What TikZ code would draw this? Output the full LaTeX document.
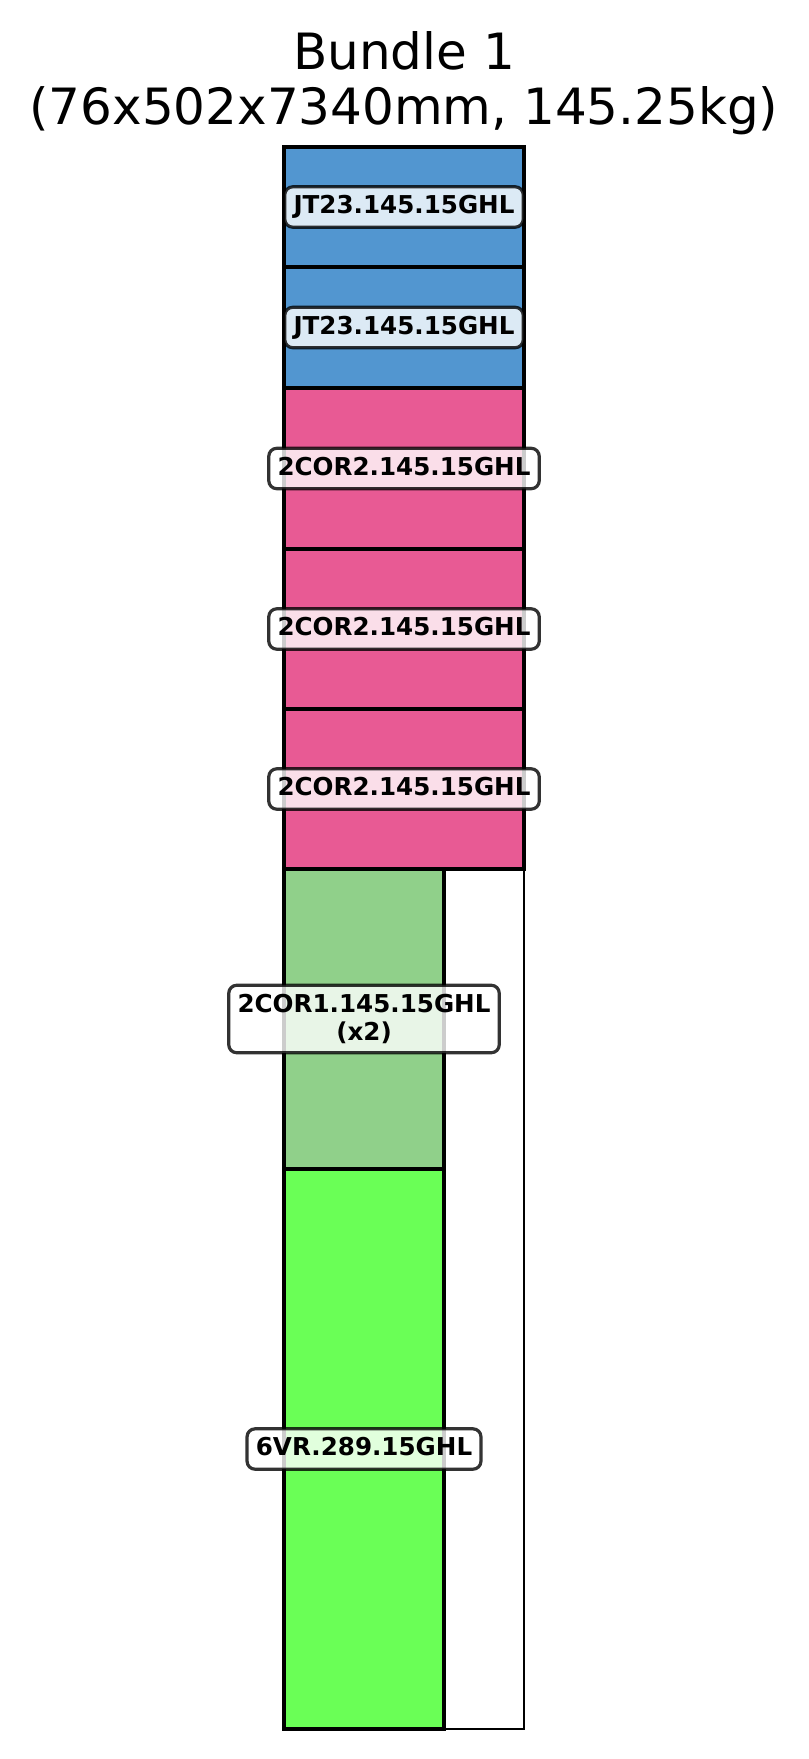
\documentclass[tikz,border=0pt]{standalone}
\usepackage{fontspec}
\setmainfont{DejaVu Sans}
\usetikzlibrary{positioning}
\definecolor{jtblue}{RGB}{82,150,208}
\definecolor{corpink}{RGB}{232,90,148}
\definecolor{corgreen}{RGB}{144,208,138}
\definecolor{vrgreen}{RGB}{106,255,86}
\tikzset{
  title/.style={font=\fontsize{25}{30}\selectfont,inner sep=0pt},
  bundle/.style={draw=black,line width=1pt,fill=white},
  piece/.style={draw=black,line width=1.7pt},
  tag/.style={draw=black,draw opacity=0.8,fill=white,fill opacity=0.8,text opacity=1,
    rounded corners=4pt,line width=1.6pt,font=\bfseries\fontsize{12.3}{14.4}\selectfont,
    inner xsep=4.4pt,inner ysep=4.3pt,align=center},
  tagone/.style={tag,text height=9.2pt,text depth=2.4pt}
}
\begin{document}
\begin{tikzpicture}[x=0.5pt,y=-0.5pt]
\useasboundingbox (0,0) rectangle (808,1759);
% title
\node[title,anchor=base] (ttl) at (404,70) {Bundle 1};
\node[title,anchor=base] (sub) at (404,125) {(76x502x7340mm, 145.25kg)};
% bundle outline and pieces
\draw[bundle] (284,147) rectangle (524,1729);
\foreach \ya/\yb/\col in {147/267/jtblue,267/388/jtblue,388/549/corpink,549/709/corpink,709/869/corpink}
  {\draw[piece,fill=\col] (284,\ya) rectangle (524,\yb);}
\draw[piece,fill=corgreen] (284,869) rectangle (444,1169);
\draw[piece,fill=vrgreen] (284,1169) rectangle (444,1729);
% labels
\foreach \yy/\nm in {207/jta,327.5/jtb}
  {\node[tagone] (\nm) at (404,\yy) {JT23.145.15GHL};}
\foreach \yy/\nm in {468.5/cora,629/corb,789/corc}
  {\node[tagone] (\nm) at (404,\yy) {2COR2.145.15GHL};}
\node[tag] (cord) at (364,1019) {2COR1.145.15GHL\\(x2)};
\node[tagone] (vr) at (364,1449) {6VR.289.15GHL};
\end{tikzpicture}
\end{document}
